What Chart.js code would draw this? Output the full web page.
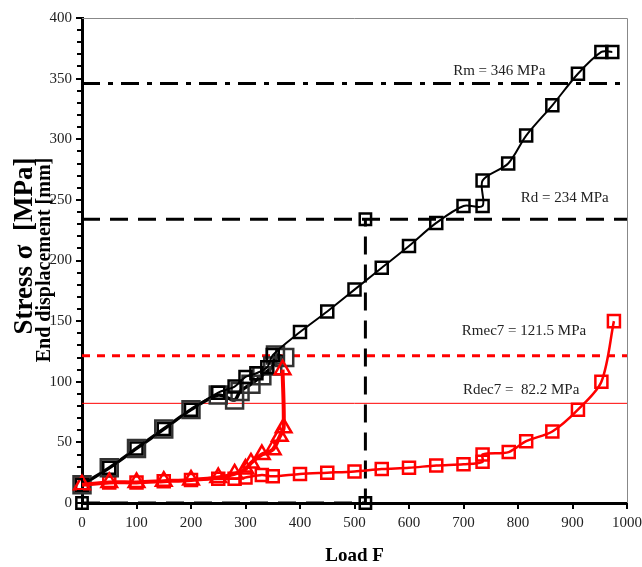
<!DOCTYPE html>
<html>
<head>
<meta charset="utf-8">
<script src="https://cdn.jsdelivr.net/npm/chart.js@4/dist/chart.umd.min.js"></script>
<style>
  html, body { margin: 0; padding: 0; background: #fff; }
</style>
</head>
<body>
<canvas id="chart" width="642" height="567"></canvas>
<script>
// black curve, thick early part (big squares)
const blackThickX = [0, 50, 100, 150, 200, 250, 280, 290, 310, 330, 350, 355, 372];
const blackThickY = [15, 29, 45, 61, 77, 89, 85, 92, 98, 105, 113, 122, 120];

// black curve, thin full run (small squares)
const blackThinX = [0, 50, 100, 150, 200, 250, 280, 300, 320, 340, 350, 400, 450, 500, 550, 600, 650, 700, 735, 735, 782, 815, 863, 910, 953, 973];
const blackThinY = [15, 29, 45, 61, 77, 91, 96, 104, 107, 112, 122, 141, 158, 176, 194, 212, 231, 245, 245, 266, 280, 303, 328, 354, 372, 372];

// red curve, thick part (triangles)
const redTriX = [0, 50, 100, 150, 200, 250, 280, 300, 310, 330, 350, 363, 370, 368];
const redTriY = [15, 17, 17, 18, 19, 21, 24, 28, 33, 40, 44, 55, 62, 110];

// red curve, thin full run (squares)
const redSqX = [0, 50, 100, 150, 200, 250, 280, 300, 330, 350, 400, 450, 500, 550, 600, 650, 700, 735, 735, 783, 815, 863, 910, 953, 976];
const redSqY = [15, 17, 17, 18, 19, 20, 20, 21, 23, 22, 24, 25, 26, 28, 29, 31, 32, 34, 40, 42, 51, 59, 77, 100, 150];

// Rd marker line at F = 520
const rdDropX = [0, 520, 520];
const rdDropY = [0, 0, 234];

// reference levels
const levelNames = ['Rm', 'Rd', 'Rmec7', 'Rdec7'];
const levelValues = [346, 234, 121.5, 82.2];
const levelLabels = ['Rm = 346 MPa', 'Rd = 234 MPa', 'Rmec7 = 121.5 MPa', 'Rdec7 =  82.2 MPa'];
const labelAtX = [681, 805, 697, 699];
const labelAtY = [356, 251.5, 142, 93];

const xTicks = [0, 100, 200, 300, 400, 500, 600, 700, 800, 900, 1000];
const yTicks = [0, 50, 100, 150, 200, 250, 300, 350, 400];

function pts(xs, ys) {
  return xs.map((x, i) => ({ x: x, y: ys[i] }));
}
function level(v) {
  return [{ x: 0, y: v }, { x: 1000, y: v }];
}

const serif = '"Liberation Serif", "DejaVu Serif", serif';

const extras = {
  id: 'extras',
  afterDraw(chart) {
    const ctx = chart.ctx;
    const a = chart.chartArea;
    const xs = chart.scales.x, ys = chart.scales.y;
    ctx.save();
    // top / right frame
    ctx.strokeStyle = '#888';
    ctx.lineWidth = 1;
    ctx.beginPath();
    ctx.moveTo(a.left, a.top + 0.5);
    ctx.lineTo(a.right + 0.5, a.top + 0.5);
    ctx.lineTo(a.right + 0.5, a.bottom);
    ctx.stroke();
    // minor y ticks
    ctx.strokeStyle = '#000';
    ctx.lineWidth = 2;
    for (let v = 10; v < 400; v += 10) {
      if (v % 50 === 0) continue;
      const py = Math.round(ys.getPixelForValue(v));
      ctx.beginPath();
      ctx.moveTo(a.left - 5, py);
      ctx.lineTo(a.left + 1, py);
      ctx.stroke();
    }
    // level labels
    ctx.fillStyle = '#222';
    ctx.font = '15px ' + serif;
    ctx.textBaseline = 'middle';
    ctx.textAlign = 'left';
    levelLabels.forEach((t, i) => {
      ctx.fillText(t, xs.getPixelForValue(labelAtX[i]), ys.getPixelForValue(labelAtY[i]));
    });
    // axis titles
    ctx.fillStyle = '#000';
    ctx.textAlign = 'center';
    ctx.font = 'bold 19px ' + serif;
    ctx.fillText('Load F', (a.left + a.right) / 2, 556);
    ctx.textBaseline = 'alphabetic';
    ctx.save();
    ctx.translate(32, 246);
    ctx.rotate(-Math.PI / 2);
    ctx.font = 'bold 27px ' + serif;
    ctx.fillText('Stress \u03c3  [MPa]', 0, 0);
    ctx.restore();
    ctx.save();
    ctx.translate(50, 260);
    ctx.rotate(-Math.PI / 2);
    ctx.font = 'bold 20px ' + serif;
    ctx.fillText('End displacement [mm]', 0, 0);
    ctx.restore();
    ctx.restore();
  }
};

const hollow = 'rgba(0,0,0,0)';

new Chart(document.getElementById('chart'), {
  type: 'scatter',
  data: {
    datasets: [
      {
        label: 'red triangles',
        data: pts(redTriX, redTriY),
        showLine: true, tension: 0.3,
        borderColor: '#ff0000', borderWidth: 4,
        pointStyle: 'triangle', pointRadius: 9,
        pointBorderColor: '#ff0000', pointBackgroundColor: hollow, pointBorderWidth: 2.5,
        clip: false
      },
      {
        label: 'black thin',
        data: pts(blackThinX, blackThinY),
        showLine: true, tension: 0.3,
        borderColor: '#000', borderWidth: 2,
        pointStyle: 'rect', pointRadius: 8.5,
        pointBorderColor: '#000', pointBackgroundColor: hollow, pointBorderWidth: 2.5,
        clip: false
      },
      {
        label: 'black thick',
        data: pts(blackThickX, blackThickY),
        showLine: true, tension: 0.3,
        borderColor: '#000', borderWidth: 3.5,
        pointStyle: 'rect', pointRadius: 12,
        pointBorderColor: '#333', pointBackgroundColor: hollow, pointBorderWidth: 2.5,
        clip: false
      },
      {
        label: 'red squares',
        data: pts(redSqX, redSqY),
        showLine: true, tension: 0.3,
        borderColor: '#ff0000', borderWidth: 2.5,
        pointStyle: 'rect', pointRadius: 8.5,
        pointBorderColor: '#ff0000', pointBackgroundColor: hollow, pointBorderWidth: 2.5,
        clip: false
      },
      {
        label: 'Rd drop cross',
        data: pts(rdDropX.slice(0, 1), rdDropY.slice(0, 1)),
        showLine: false,
        pointStyle: 'cross', pointRadius: 6,
        pointBorderColor: '#000', pointBorderWidth: 2,
        clip: false
      },
      {
        label: 'Rd drop',
        data: pts(rdDropX, rdDropY),
        showLine: true, tension: 0,
        borderColor: '#000', borderWidth: 3, borderDash: [18, 10],
        pointStyle: 'rect', pointRadius: 8,
        pointBorderColor: '#000', pointBackgroundColor: hollow, pointBorderWidth: 2.5,
        clip: false
      },
      {
        label: levelNames[0], data: level(levelValues[0]), showLine: true,
        borderColor: '#000', borderWidth: 3, borderDash: [18, 8, 5, 8], pointRadius: 0
      },
      {
        label: levelNames[1], data: level(levelValues[1]), showLine: true,
        borderColor: '#000', borderWidth: 3, borderDash: [18, 10], pointRadius: 0
      },
      {
        label: levelNames[2], data: level(levelValues[2]), showLine: true,
        borderColor: '#ff0000', borderWidth: 3, borderDash: [8, 7], pointRadius: 0
      },
      {
        label: levelNames[3], data: level(levelValues[3]), showLine: true,
        borderColor: '#ff0000', borderWidth: 1, pointRadius: 0
      }
    ]
  },
  options: {
    responsive: false,
    animation: false,
    layout: { padding: { left: 0, top: 18, right: 15, bottom: 0 } },
    plugins: { legend: { display: false }, tooltip: { enabled: false } },
    scales: {
      x: {
        type: 'linear', min: 0, max: 1000,
        afterFit(s) { s.height = 64; s.paddingRight = 0; },
        afterBuildTicks(s) { s.ticks = xTicks.map(v => ({ value: v })); },
        border: { color: '#000', width: 3 },
        grid: { drawOnChartArea: false, color: '#000', lineWidth: 2, tickLength: 6 },
        ticks: { color: '#222', padding: 5, font: { family: serif, size: 15 }, callback: v => String(v) }
      },
      y: {
        type: 'linear', min: 0, max: 400,
        afterFit(s) { s.width = 82; },
        afterBuildTicks(s) { s.ticks = yTicks.map(v => ({ value: v })); },
        border: { color: '#000', width: 3 },
        grid: { drawOnChartArea: false, color: '#000', lineWidth: 2, tickLength: 6 },
        ticks: { color: '#222', padding: 4, font: { family: serif, size: 15 }, callback: v => String(v) }
      }
    }
  },
  plugins: [extras]
});
</script>
</body>
</html>
